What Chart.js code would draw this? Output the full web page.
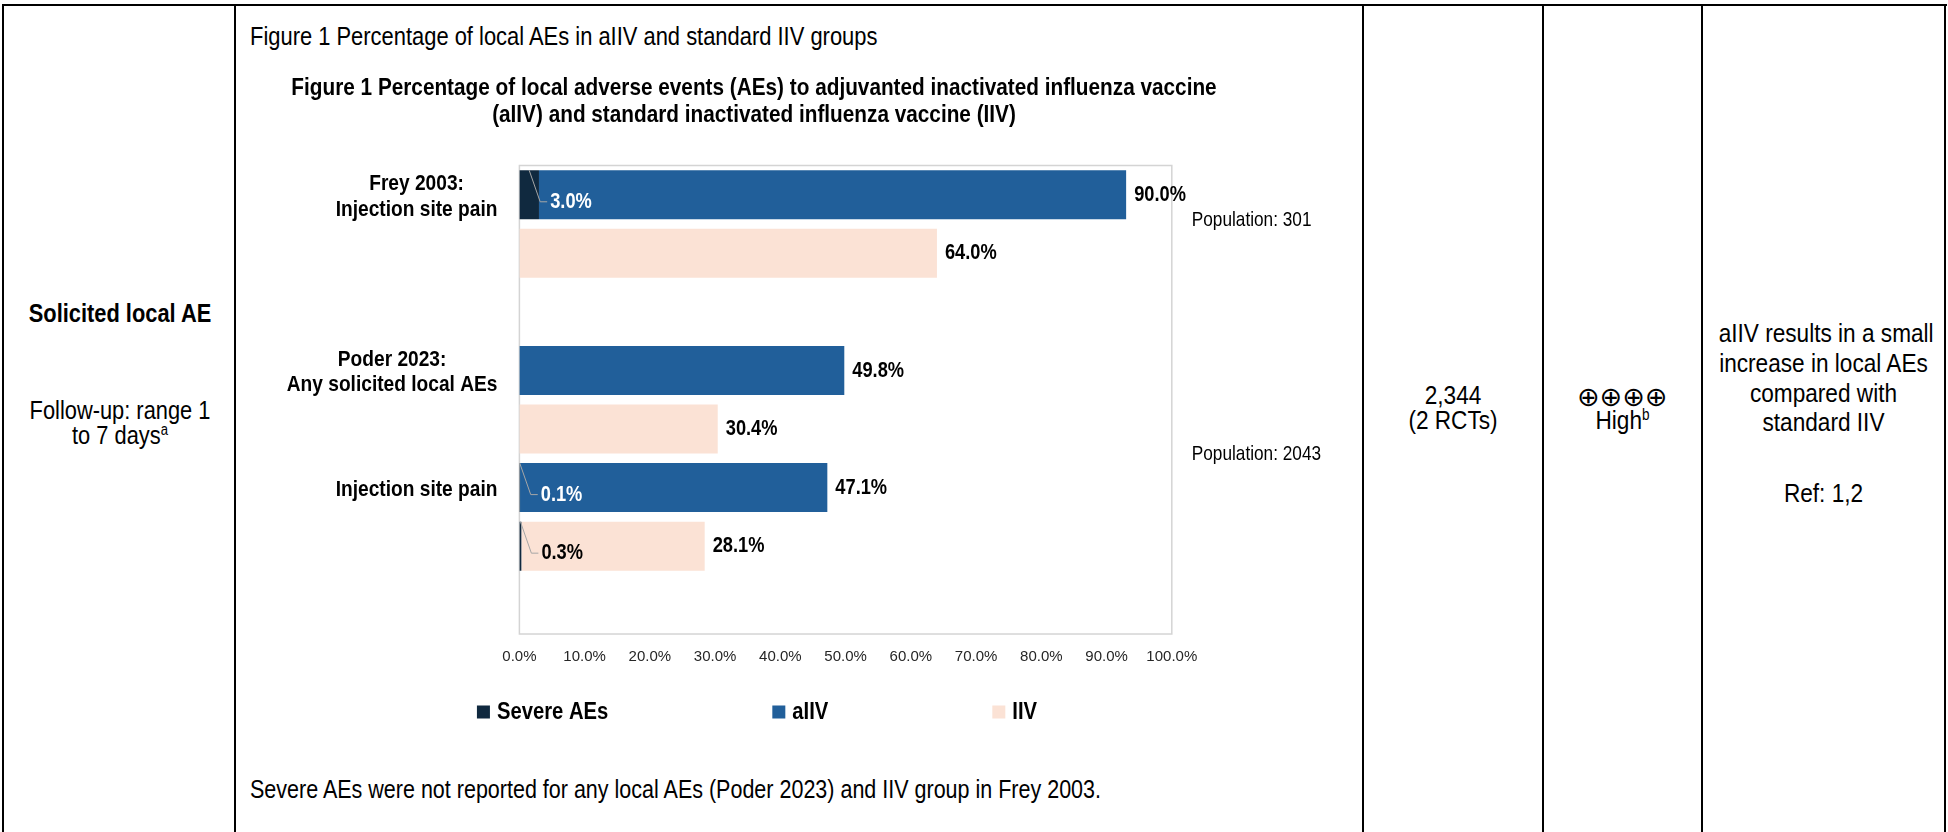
<!DOCTYPE html>
<html>
<head>
<meta charset="utf-8">
<script src="https://cdn.jsdelivr.net/npm/chart.js@4.4.1/dist/chart.umd.min.js"></script>
<style>
html,body{margin:0;padding:0;background:#fff;}
body{width:1948px;height:832px;position:relative;overflow:hidden;font-family:'Liberation Sans',Arial,sans-serif;color:#000;}
.ln{position:absolute;background:#000;}
.t{position:absolute;white-space:nowrap;line-height:1;font-size:26px;}
.ctr{text-align:center;transform-origin:50% 50%;}
.lft{transform-origin:0 50%;}
.s83{transform:scaleX(0.827);}
.s84{transform:scaleX(0.84);}
.s87{transform:scaleX(0.87);}
.b{font-weight:bold;}
.sup{font-size:60%;position:relative;top:-0.55em;}
.sym{font-family:'DejaVu Sans',sans-serif;font-size:27px;}
#wrap{position:absolute;left:152px;top:60px;width:1204px;height:700px;}
</style>
</head>
<body>
<!-- table rules -->
<div class="ln" style="left:2px;top:4px;width:1945px;height:2px"></div>
<div class="ln" style="left:2px;top:4px;width:2px;height:828px"></div>
<div class="ln" style="left:234px;top:4px;width:2px;height:828px"></div>
<div class="ln" style="left:1362px;top:4px;width:2px;height:828px"></div>
<div class="ln" style="left:1542px;top:4px;width:2px;height:828px"></div>
<div class="ln" style="left:1701px;top:4px;width:2px;height:828px"></div>
<div class="ln" style="left:1944px;top:4px;width:2px;height:828px"></div>

<!-- column 1 -->
<div class="t ctr s84 b" style="left:4px;width:232px;top:300px">Solicited local AE</div>
<div class="t ctr s84" style="left:4px;width:232px;top:397px">Follow-up: range 1</div>
<div class="t ctr s84" style="left:4px;width:232px;top:422px">to 7 days<span class="sup">a</span></div>

<!-- column 2 texts -->
<div class="t lft s83" style="left:250px;top:23px;font-size:26.5px">Figure 1 Percentage of local AEs in aIIV and standard IIV groups</div>
<div class="t lft s83" style="left:250px;top:776px">Severe AEs were not reported for any local AEs (Poder 2023) and IIV group in Frey 2003.</div>

<!-- column 3 -->
<div class="t ctr s87" style="left:1364px;width:178px;top:382px">2,344</div>
<div class="t ctr s87" style="left:1364px;width:178px;top:407px">(2 RCTs)</div>

<!-- column 4 -->
<div class="t ctr sym" style="left:1544px;width:157px;top:382.5px">⊕⊕⊕⊕</div>
<div class="t ctr s87" style="left:1544px;width:157px;top:407px">High<span class="sup">b</span></div>

<!-- column 5 -->
<div class="t ctr s87" style="left:1703px;width:241px;top:320px">aIIV results in a small</div>
<div class="t ctr s87" style="left:1703px;width:241px;top:349.8px">increase in local AEs</div>
<div class="t ctr s87" style="left:1703px;width:241px;top:379.6px">compared with</div>
<div class="t ctr s87" style="left:1703px;width:241px;top:409.4px">standard IIV</div>
<div class="t ctr s87" style="left:1703px;width:241px;top:480px">Ref: 1,2</div>

<div id="wrap"><canvas id="chart"></canvas></div>

<script>
// ---------- data ----------
const categories = [
  ['Frey 2003:', 'Injection site pain'], '', '',
  ['Poder 2023:', 'Any solicited local AEs'], '',
  'Injection site pain', '', ''
];
const seriesNames = ['Severe AEs', 'aIIV', 'IIV'];
const severeAEs = [3.0, null, null, null, null, 0.1, 0.3, null];
const aIIV      = [90.0, null, null, 49.8, null, 47.1, null, null];
const IIV       = [null, 64.0, null, null, 30.4, null, 28.1, null];
const xTickValues = [0, 10, 20, 30, 40, 50, 60, 70, 80, 90, 100];
const studyOfRow = [0, 0, null, 1, 1, 1, 1, null];
const studyPopulation = [301, 2043];
const titleLines = [
  'Figure 1 Percentage of local adverse events (AEs) to adjuvanted inactivated influenza vaccine',
  '(aIIV) and standard inactivated influenza vaccine (IIV)'
];

// ---------- style ----------
const FONT = "'Liberation Sans', Arial, sans-serif";
const COLORS = ['#10293f', '#215f9a', '#fbe2d5'];
const pct = v => v.toFixed(1) + '%';

// horizontally condensed text (the source figure uses a narrow face)
function sText(ctx, text, x, y, align, s) {
  ctx.save();
  ctx.translate(x, y);
  ctx.scale(s, 1);
  ctx.textAlign = align;
  ctx.fillText(text, 0, 0);
  ctx.restore();
}

const overlay = {
  id: 'overlay',
  beforeDatasetsDraw(chart) {
    const {ctx, chartArea: a} = chart;
    ctx.save();
    ctx.strokeStyle = '#d4d4d4';
    ctx.lineWidth = 1.5;
    ctx.strokeRect(a.left, a.top, a.right - a.left, a.bottom - a.top);
    ctx.restore();
  },
  afterDatasetsDraw(chart) {
    const {ctx, chartArea: a, scales: {y}} = chart;
    ctx.save();
    ctx.textBaseline = 'middle';

    // category labels (block right-aligned, lines centred)
    const sc = 0.87;
    ctx.font = `bold 22px ${FONT}`;
    ctx.fillStyle = '#000';
    categories.forEach((lab, i) => {
      const lines = Array.isArray(lab) ? lab : [lab];
      if (!lines[0]) return;
      const yc = y.getPixelForTick(i) + 2;
      const w = Math.max(...lines.map(l => ctx.measureText(l).width)) * sc;
      const cx = a.left - 22 - w / 2;
      lines.forEach((l, k) => sText(ctx, l, cx, yc + (k - (lines.length - 1) / 2) * 25.5, 'center', sc));
    });

    // value labels at the end of each stacked bar
    const sv = 0.83;
    [1, 2].forEach(di => {
      const meta = chart.getDatasetMeta(di);
      const data = chart.data.datasets[di].data;
      meta.data.forEach((el, i) => {
        if (data[i] == null) return;
        sText(ctx, pct(data[i]), el.x + 8, el.y, 'left', sv);
      });
    });

    // severe AE labels with leader lines
    const sm = chart.getDatasetMeta(0);
    sm.data.forEach((el, i) => {
      const v = severeAEs[i];
      if (v == null) return;
      const cx = (el.x + el.base) / 2;
      const top = el.y - el.height / 2;
      const lx = cx + 21, ly = el.y + 7;
      ctx.strokeStyle = '#a6a6a6';
      ctx.lineWidth = 1;
      ctx.beginPath();
      ctx.moveTo(cx, top);
      ctx.lineTo(lx - 10, ly);
      ctx.lineTo(lx - 3, ly);
      ctx.stroke();
      ctx.fillStyle = aIIV[i] != null ? '#ffffff' : '#000000';
      sText(ctx, pct(v), lx, ly, 'left', sv);
    });

    // population notes
    ctx.font = `21px ${FONT}`;
    ctx.fillStyle = '#000';
    studyPopulation.forEach((n, s) => {
      const rows = studyOfRow.map((v, i) => v === s ? i : -1).filter(i => i >= 0);
      const yy = (y.getPixelForTick(rows[0]) + y.getPixelForTick(rows[rows.length - 1])) / 2 - 4;
      sText(ctx, 'Population: ' + n, a.right + 20, yy, 'left', 0.82);
    });
    ctx.restore();
  },
  afterDraw(chart) {
    const {ctx, chartArea: a} = chart;
    const centre = chart.width / 2;
    ctx.save();
    ctx.textBaseline = 'middle';
    ctx.fillStyle = '#000';

    // chart title
    ctx.font = `bold 24px ${FONT}`;
    titleLines.forEach((l, k) => sText(ctx, l, centre, a.top - 77.5 + k * 27, 'center', 0.865));

    // legend
    const sl = 0.88;
    ctx.font = `bold 23px ${FONT}`;
    const box = 13, gapT = 7, gap = 164;
    const items = chart.data.datasets.map(d => ({text: d.label, color: d.backgroundColor}));
    const widths = items.map(it => box + gapT + ctx.measureText(it.text).width * sl);
    const total = widths.reduce((s, w) => s + w, 0) + gap * (items.length - 1);
    let x0 = centre + 3 - total / 2;
    const ly = a.bottom + 78;
    items.forEach((it, k) => {
      ctx.fillStyle = it.color;
      ctx.fillRect(x0, ly - box / 2, box, box);
      ctx.fillStyle = '#000';
      sText(ctx, it.text, x0 + box + gapT, ly + 1, 'left', sl);
      x0 += widths[k] + gap;
    });
    ctx.restore();
  }
};

new Chart(document.getElementById('chart'), {
  type: 'bar',
  data: {
    labels: categories,
    datasets: [
      {label: seriesNames[0], data: severeAEs, backgroundColor: COLORS[0]},
      {label: seriesNames[1], data: aIIV, backgroundColor: COLORS[1]},
      {label: seriesNames[2], data: IIV, backgroundColor: COLORS[2]}
    ]
  },
  options: {
    indexAxis: 'y',
    responsive: true,
    maintainAspectRatio: false,
    devicePixelRatio: 1,
    animation: false,
    datasets: {bar: {barPercentage: 0.837, categoryPercentage: 1.0, borderWidth: 0}},
    layout: {padding: {left: 0, right: 184.2, top: 105.5, bottom: 86}},
    scales: {
      x: {
        stacked: true, min: 0, max: 100,
        grid: {display: false, drawTicks: false},
        border: {display: false},
        afterBuildTicks: s => { s.ticks = xTickValues.map(v => ({value: v})); },
        ticks: {
          padding: 14, autoSkip: false, maxRotation: 0,
          color: '#262626',
          font: {family: FONT, size: 15},
          callback: v => pct(v)
        },
        afterFit: s => { s.height = 40; }
      },
      y: {
        stacked: true,
        grid: {display: false, drawTicks: false},
        border: {display: false},
        ticks: {display: false},
        afterFit: s => { s.width = 367.4; }
      }
    },
    plugins: {
      legend: {display: false},
      tooltip: {enabled: false},
      title: {display: false}
    }
  },
  plugins: [overlay]
});
</script>
</body>
</html>
